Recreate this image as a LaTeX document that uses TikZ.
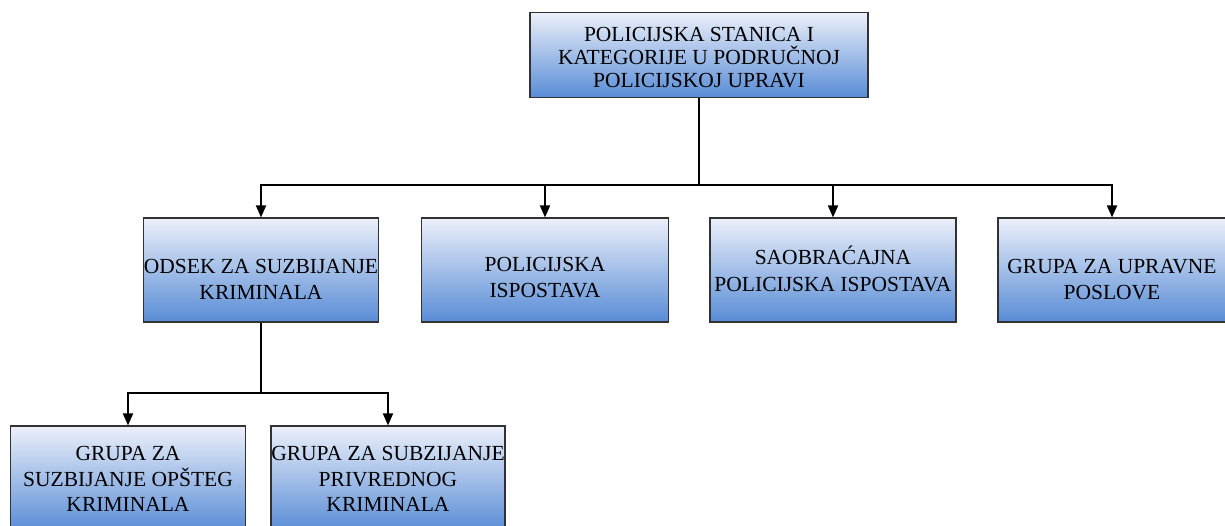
\documentclass[tikz,border=0pt]{standalone}
\usepackage{fontspec}
\setmainfont{Liberation Serif}
\usetikzlibrary{arrows.meta}
\definecolor{gtop}{RGB}{236,240,250}
\definecolor{gbot}{RGB}{88,140,214}
\definecolor{edge}{RGB}{50,50,50}
\tikzset{
  orgbox/.style={draw=edge, line width=1.1pt, top color=gtop, bottom color=gbot,
    inner sep=0pt},
  txt/.style={inner sep=0pt, align=center, text=black},
  txttop/.style={txt, font=\fontsize{21.5}{23}\selectfont, yshift=-3pt},
  txtmid/.style={txt, font=\fontsize{21.5}{26.5}\selectfont},
  txtbot/.style={txt, font=\fontsize{21.5}{25.5}\selectfont, yshift=0pt},
  conn/.style={line width=1.8pt, black},
  arr/.style={conn, -{Triangle[length=12pt,width=10pt]}}
}
\begin{document}
\begin{tikzpicture}[x=1pt,y=-1pt]
\useasboundingbox (0,0) rectangle (1225,526);
\clip (0,0) rectangle (1225,526);
\node[orgbox, minimum width=338pt, minimum height=85pt,
  label={[txttop]center:{POLICIJSKA STANICA I\\KATEGORIJE U PODRUČNOJ\\POLICIJSKOJ UPRAVI}}]
  (top) at (699,55) {};
\node[orgbox, minimum width=235pt, minimum height=104pt,
  label={[txtmid, yshift=-9.5pt]center:{ODSEK ZA SUZBIJANJE\\KRIMINALA}}]
  (a) at (261,270) {};
\node[orgbox, minimum width=247pt, minimum height=104pt,
  label={[txtmid, yshift=-7.5pt]center:{POLICIJSKA\\ISPOSTAVA}}]
  (b) at (545,270) {};
\node[orgbox, minimum width=246pt, minimum height=104pt,
  label={[txtmid, yshift=1pt]center:{SAOBRAĆAJNA\\POLICIJSKA ISPOSTAVA}}]
  (c) at (833,270) {};
\node[orgbox, minimum width=228pt, minimum height=104pt,
  label={[txtmid, yshift=-9.5pt]center:{GRUPA ZA UPRAVNE\\POSLOVE}}]
  (d) at (1112,270) {};
\node[orgbox, minimum width=235pt, minimum height=106pt,
  label={[txtbot]center:{GRUPA ZA\\SUZBIJANJE OPŠTEG\\KRIMINALA}}]
  (e) at (128,479) {};
\node[orgbox, minimum width=234pt, minimum height=106pt,
  label={[txtbot]center:{GRUPA ZA SUBZIJANJE\\PRIVREDNOG\\KRIMINALA}}]
  (f) at (388,479) {};
\coordinate (j1) at (699,185);
\coordinate (j2) at (261,393);
\draw[conn] (top.south) -- (j1);
\draw[arr] (j1) -| (a.north);
\draw[arr] (j1) -| (b.north);
\draw[arr] (j1) -| (c.north);
\draw[arr] (j1) -| (d.north);
\draw[conn] (a.south) -- (j2);
\draw[arr] (j2) -| (e.north);
\draw[arr] (j2) -| (f.north);
\end{tikzpicture}
\end{document}
